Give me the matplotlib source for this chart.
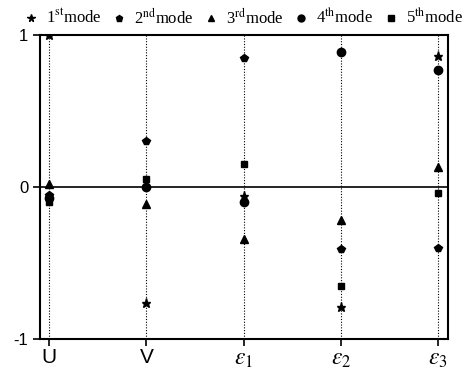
import matplotlib
matplotlib.use("Agg")
import matplotlib.pyplot as plt
from matplotlib.lines import Line2D

categories = ["U", "V", r"$\varepsilon_1$", r"$\varepsilon_2$", r"$\varepsilon_3$"]
mode_labels = [r"1$^{\mathrm{st}}$mode", r"2$^{\mathrm{nd}}$mode", r"3$^{\mathrm{rd}}$mode",
               r"4$^{\mathrm{th}}$mode", r"5$^{\mathrm{th}}$mode"]
mode1 = [1.00, -0.76, -0.06, -0.79, 0.86]
mode2 = [-0.05, 0.30, 0.85, -0.41, -0.40]
mode3 = [0.02, -0.11, -0.34, -0.22, 0.13]
mode4 = [-0.07, 0.00, -0.10, 0.89, 0.77]
mode5 = [-0.10, 0.05, 0.15, -0.65, -0.04]
modes = [mode1, mode2, mode3, mode4, mode5]
markers = ["*", "p", "^", "o", "s"]
sizes = [6.5, 6, 6, 6, 5]

plt.rcParams["mathtext.fontset"] = "stix"

fig = plt.figure(figsize=(4.67, 3.70), dpi=100)
ax = fig.add_axes([0.0857, 0.0838, 0.8736, 0.8216])

x = list(range(len(categories)))
for xi in x:
    ax.axvline(xi, color="black", linestyle=(0, (1, 1.5)), linewidth=0.8, zorder=1)
ax.axhline(0, color="black", linewidth=1.2, zorder=1)

for vals, m, s in zip(modes, markers, sizes):
    ax.plot(x, vals, linestyle="none", marker=m, markersize=s, color="black", zorder=3)

ax.set_xlim(-0.093, 4.1)
ax.set_ylim(-1, 1)
ax.set_yticks([-1, 0, 1])
ax.set_yticklabels(["-1", "0", "1"], fontsize=12, family="Liberation Sans")
ax.set_xticks(x)
ax.set_xticklabels(categories, fontsize=15, family="Liberation Sans")
for lbl in ax.get_xticklabels()[2:]:
    lbl.set_fontsize(17)
ax.tick_params(direction="out", length=5, width=1.2)
ax.tick_params(axis="x", pad=1.5)
for sp in ax.spines.values():
    sp.set_linewidth(1.5)

handles = [Line2D([], [], linestyle="none", marker=m, markersize=s - 1, color="black")
           for m, s in zip(markers, sizes)]
fig.legend(handles, mode_labels, loc="upper center", bbox_to_anchor=(0.52, 1.02), ncol=5,
           frameon=False, handletextpad=0.4, columnspacing=0.55, handlelength=1.0,
           prop={"family": "Liberation Serif", "size": 12})

fig.savefig("out.png", dpi=100)
